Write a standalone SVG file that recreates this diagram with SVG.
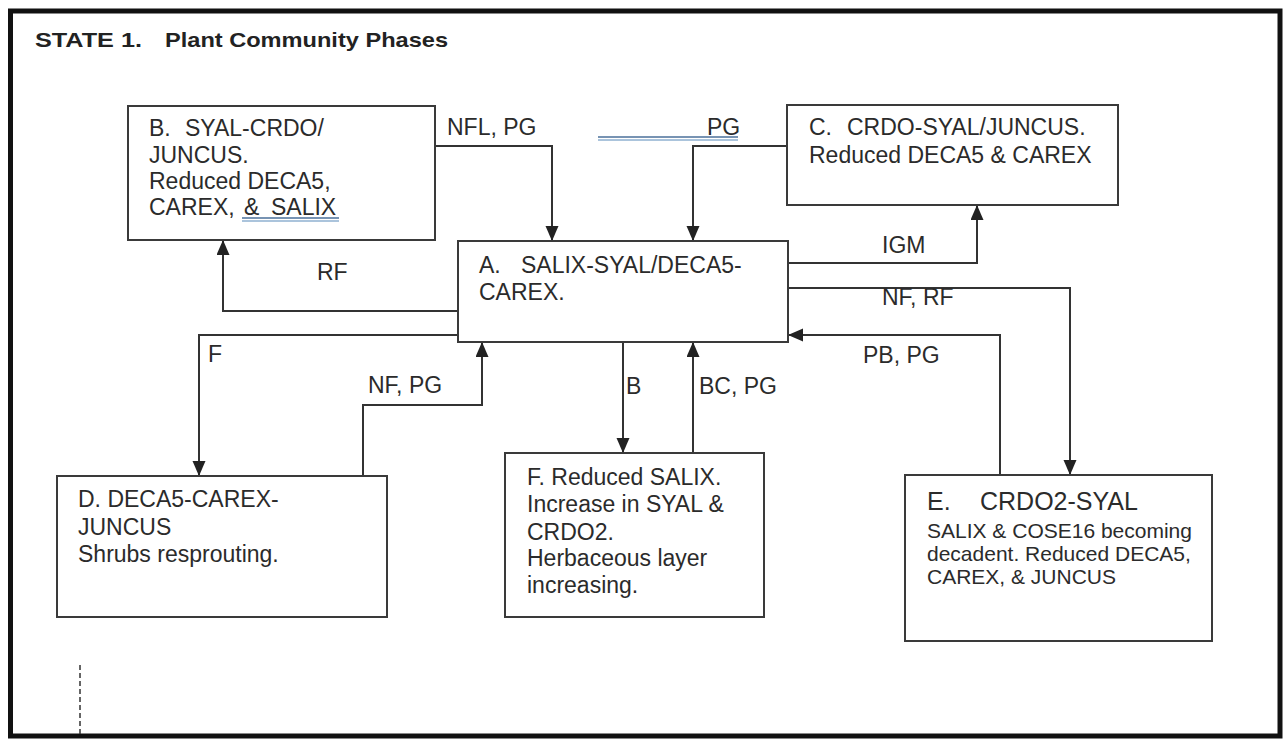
<svg xmlns="http://www.w3.org/2000/svg" width="1286" height="742" viewBox="0 0 1286 742">
<style>
text { font-family: "Liberation Sans", Arial, sans-serif; fill: #2b2b2b; }
.t { font-size: 23px; }
.s { font-size: 21px; }
.h { font-size: 25px; }
.title { font-size: 21px; font-weight: bold; fill: #222; }
.box { fill: #fff; stroke: #3a3a3a; stroke-width: 2; }
.con { fill: none; stroke: #333; stroke-width: 2; }
.ul1 { stroke: #4a6f9a; stroke-width: 1.5; }
.ul2 { stroke: #8fb0d0; stroke-width: 1.5; }
</style>
<defs>
<marker id="arr" markerUnits="userSpaceOnUse" markerWidth="16" markerHeight="14" refX="15" refY="6.5" orient="auto">
<path d="M0,0 L15,6.5 L0,13 z" fill="#222"/>
</marker>
</defs>
<rect x="0" y="0" width="1286" height="742" fill="#fff"/>
<rect x="10.5" y="11" width="1269.5" height="725" fill="none" stroke="#111" stroke-width="5"/>
<g id="title">
<text class="title" x="35" y="47" textLength="107" lengthAdjust="spacingAndGlyphs">STATE 1.</text>
<text class="title" x="165" y="47" textLength="283" lengthAdjust="spacingAndGlyphs">Plant Community Phases</text>
</g>
<g id="connectors">
<path class="con" d="M435,146 H552 V241" marker-end="url(#arr)"/>
<path class="con" d="M787,146 H693 V241" marker-end="url(#arr)"/>
<path class="con" d="M788,263 H977 V205" marker-end="url(#arr)"/>
<path class="con" d="M788,288 H1070 V475" marker-end="url(#arr)"/>
<path class="con" d="M1000,475 V335 H788" marker-end="url(#arr)"/>
<path class="con" d="M458,311 H223 V240" marker-end="url(#arr)"/>
<path class="con" d="M458,335 H199 V476" marker-end="url(#arr)"/>
<path class="con" d="M363,476 V405 H482 V342" marker-end="url(#arr)"/>
<path class="con" d="M623,335 V453" marker-end="url(#arr)"/>
<path class="con" d="M693,453 V342" marker-end="url(#arr)"/>
<text class="t" x="447" y="135">NFL, PG</text>
<text class="t" x="707" y="135">PG</text>
<line class="ul1" x1="598" y1="137" x2="738" y2="137"/>
<line class="ul2" x1="598" y1="140" x2="738" y2="140"/>
<text class="t" x="882" y="253">IGM</text>
<text class="t" x="882" y="305">NF, RF</text>
<text class="t" x="863" y="363">PB, PG</text>
<text class="t" x="317" y="280">RF</text>
<text class="t" x="208" y="362">F</text>
<text class="t" x="368" y="393">NF, PG</text>
<text class="t" x="626" y="394">B</text>
<text class="t" x="699" y="394">BC, PG</text>
</g>
<g id="nodeB">
<rect class="box" x="128" y="106" width="307" height="134"/>
<text class="t" x="149" y="136">B.</text>
<text class="t" x="185" y="136">SYAL-CRDO/</text>
<text class="t" x="149" y="163">JUNCUS.</text>
<text class="t" x="149" y="189">Reduced DECA5,</text>
<text class="t" x="149" y="215">CAREX,</text>
<text class="t" x="244" y="215">&amp;</text>
<text class="t" x="271" y="215">SALIX</text>
<line class="ul1" x1="242" y1="218" x2="339" y2="218"/>
<line class="ul2" x1="242" y1="221" x2="339" y2="221"/>
</g>
<g id="nodeC">
<rect class="box" x="787" y="105" width="331" height="100"/>
<text class="t" x="809" y="135">C.</text>
<text class="t" x="847" y="135">CRDO-SYAL/JUNCUS.</text>
<text class="t" x="809" y="163">Reduced DECA5 &amp; CAREX</text>
</g>
<g id="nodeA">
<rect class="box" x="458" y="241" width="330" height="101"/>
<text class="t" x="479" y="273">A.</text>
<text class="t" x="521" y="273">SALIX-SYAL/DECA5-</text>
<text class="t" x="479" y="300">CAREX.</text>
</g>
<g id="nodeD">
<rect class="box" x="57" y="476" width="330" height="141"/>
<text class="t" x="78" y="507">D. DECA5-CAREX-</text>
<text class="t" x="78" y="535">JUNCUS</text>
<text class="t" x="78" y="562">Shrubs resprouting.</text>
</g>
<g id="nodeF">
<rect class="box" x="505" y="453" width="259" height="164"/>
<text class="t" x="527" y="485">F. Reduced SALIX.</text>
<text class="t" x="527" y="512">Increase in SYAL &amp;</text>
<text class="t" x="527" y="540">CRDO2.</text>
<text class="t" x="527" y="566">Herbaceous layer</text>
<text class="t" x="527" y="593">increasing.</text>
</g>
<g id="nodeE">
<rect class="box" x="905" y="475" width="307" height="166"/>
<text class="h" x="927" y="510">E.</text>
<text class="h" x="980" y="510">CRDO2-SYAL</text>
<text class="s" x="927" y="538">SALIX &amp; COSE16 becoming</text>
<text class="s" x="927" y="561">decadent. Reduced DECA5,</text>
<text class="s" x="927" y="584">CAREX, &amp; JUNCUS</text>
</g>
<line x1="80" y1="665" x2="80" y2="736" stroke="#333" stroke-width="1.5" stroke-dasharray="5,3"/>
</svg>
